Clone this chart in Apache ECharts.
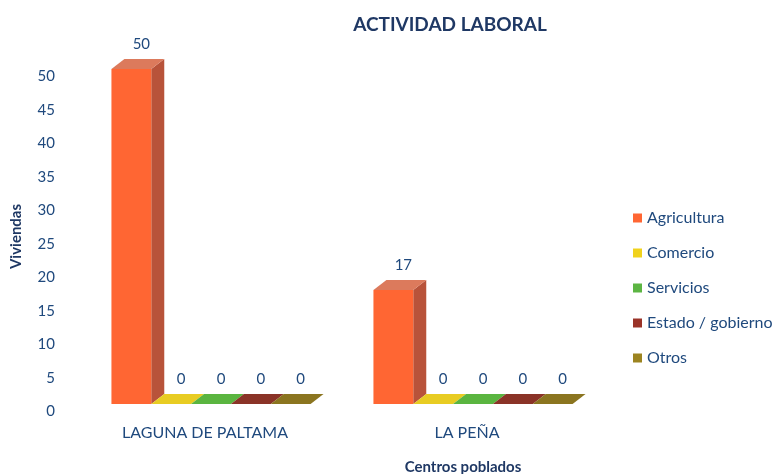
<!DOCTYPE html>
<html>
<head>
<meta charset="utf-8">
<script src="https://cdn.jsdelivr.net/npm/echarts@6/dist/echarts.min.js"></script>
<style>
  html, body { margin: 0; padding: 0; background: #fff; }
  #chart { width: 780px; height: 474px; }
</style>
</head>
<body>
<div id="chart"></div>
<script>
// datos
const centros = ["LAGUNA DE PALTAMA", "LA PEÑA"];
const agricultura = [50, 17];
const comercio = [0, 0];
const servicios = [0, 0];
const estado = [0, 0];
const otros = [0, 0];
const yTicks = [0, 5, 10, 15, 20, 25, 30, 35, 40, 45, 50];

const textColor = "#1F497D";
const font = "Lato, 'Open Sans', sans-serif";

// colores por serie: frente, lado, arriba
const estilos = [
  { name: "Agricultura", front: "#ff6633", side: "#b8533a", top: "#dc7a5c", data: agricultura },
  { name: "Comercio", front: "#f0d21c", side: "#b39a10", top: "#e8cc22", data: comercio },
  { name: "Servicios", front: "#5cb543", side: "#3e8a2e", top: "#5ab540", data: servicios },
  { name: "Estado / gobierno", front: "#9a3328", side: "#6e2219", top: "#8a3327", data: estado },
  { name: "Otros", front: "#9c8420", side: "#6f5d12", top: "#8b7520", data: otros },
];

const DX = 13, DY = -10;

function render3d(params, api) {
  const cat = api.value(0);
  const v = api.value(1);
  const base = api.coord([cat, 0]);
  const top = api.coord([cat, v]);
  const cw = api.size([1, 0])[0];
  const bw = cw * 0.152;
  const i = params.seriesIndex;
  const x0 = base[0] - 2.5 * bw + i * bw + 6;
  const x1 = x0 + bw;
  const yb = base[1];
  const yt = top[1];
  const st = estilos[i];
  return {
    type: "group",
    children: [
      {
        type: "polygon",
        shape: { points: [[x1, yt], [x1 + DX, yt + DY], [x1 + DX, yb + DY], [x1, yb]] },
        style: { fill: st.side },
      },
      {
        type: "rect",
        shape: { x: x0, y: yt, width: bw, height: yb - yt },
        style: { fill: st.front },
      },
      {
        type: "polygon",
        shape: { points: [[x0, yt], [x0 + DX, yt + DY], [x1 + DX, yt + DY], [x1, yt]] },
        style: { fill: st.top },
      },
      {
        type: "text",
        style: {
          text: String(v),
          x: (x0 + x1) / 2 + 10,
          y: yt + DY - 15,
          textAlign: "center",
          textVerticalAlign: "middle",
          fill: textColor,
          fontSize: 15,
          fontFamily: font,
        },
      },
    ],
  };
}

const chart = echarts.init(document.getElementById("chart"));
chart.setOption({
  backgroundColor: "#fff",
  animation: false,
  textStyle: { fontFamily: font },
  title: [
    {
      text: "ACTIVIDAD LABORAL",
      left: 445,
      textAlign: "center",
      top: 10,
      textStyle: { color: "#1F3864", fontSize: 19, fontWeight: "bold", fontFamily: font },
    },
    {
      text: "Centros poblados",
      left: 458,
      textAlign: "center",
      top: 455,
      textStyle: { color: "#1F3864", fontSize: 15, fontWeight: "bold", fontFamily: font },
    },
  ],
  legend: {
    orient: "vertical",
    left: 628,
    top: 205,
    itemWidth: 9,
    itemHeight: 9,
    itemGap: 19,
    icon: "rect",
    textStyle: { color: textColor, fontSize: 16, fontFamily: font },
    data: estilos.map((s) => s.name),
  },
  grid: { left: 74, right: 182, top: 69, bottom: 70 },
  xAxis: {
    type: "category",
    data: centros,
    axisLine: { show: false },
    axisTick: { show: false },
    axisLabel: { color: textColor, fontSize: 16, margin: 21, fontFamily: font },
  },
  yAxis: {
    type: "value",
    min: yTicks[0],
    max: yTicks[yTicks.length - 1],
    interval: 5,
    name: "Viviendas",
    nameLocation: "middle",
    nameGap: 50,
    nameTextStyle: { color: "#1F3864", fontSize: 15, fontWeight: "bold", fontFamily: font },
    axisLine: { show: false },
    axisTick: { show: false },
    splitLine: { show: false },
    axisLabel: { color: textColor, fontSize: 15, margin: 19, verticalAlign: "top", fontFamily: font },
  },
  series: estilos.map((s) => ({
    name: s.name,
    type: "custom",
    renderItem: render3d,
    itemStyle: { color: s.front },
    encode: { x: 0, y: 1 },
    data: s.data.map((v, k) => [k, v]),
  })),
});
</script>
</body>
</html>
